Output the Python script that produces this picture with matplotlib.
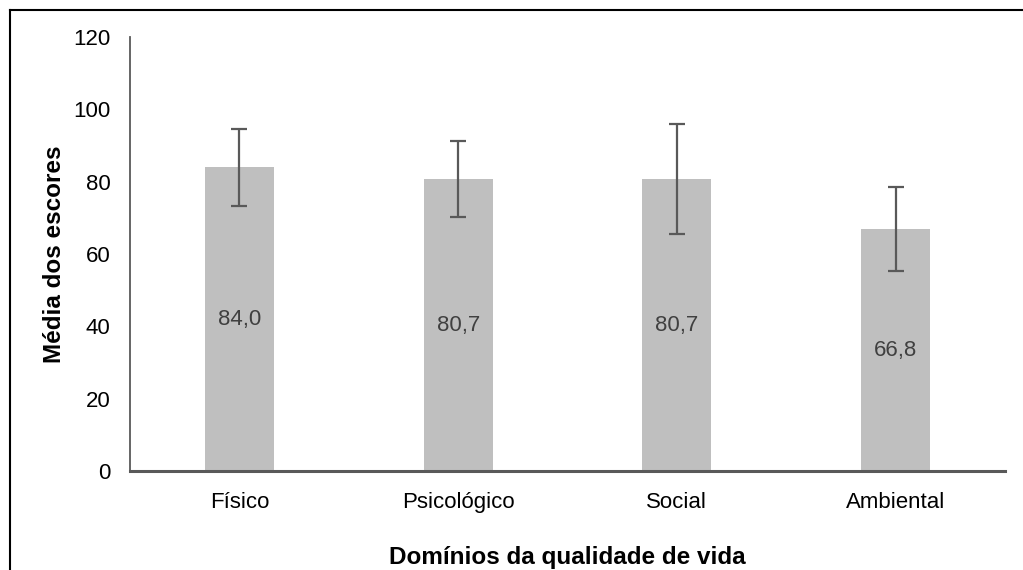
import numpy as np
import matplotlib
matplotlib.use("Agg")
import matplotlib.pyplot as plt
from matplotlib.lines import Line2D

plt.rcParams['font.family'] = ['Liberation Sans', 'DejaVu Sans']

# Scores by quality-of-life domain
domains = ['Físico', 'Psicológico', 'Social', 'Ambiental']
means = [84.0, 80.7, 80.7, 66.8]
sd = [10.6, 10.6, 15.2, 11.6]
labels = ['84,0', '80,7', '80,7', '66,8']

fig = plt.figure(figsize=(10.23, 5.70), dpi=100)
ax = fig.add_axes([130 / 1023, 1 - 471 / 570, 875 / 1023, 434 / 570])

x = np.arange(len(domains))
bars = ax.bar(x, means, width=0.315, color='#bfbfbf', zorder=2)
ax.errorbar(x, means, yerr=sd, fmt='none', ecolor='#595959', elinewidth=1.6,
            capsize=6, capthick=1.6, zorder=3)
ax.bar_label(bars, labels=labels, label_type='center', fontsize=16, color='#404040')

ax.set_xlim(-0.5, len(domains) - 0.5)
ax.set_ylim(0, 120)
ax.set_yticks(np.arange(0, 121, 20))
ax.set_xticks(x)
ax.set_xticklabels(domains)
ax.tick_params(axis='both', length=0, labelsize=16, colors='black')
ax.tick_params(axis='y', pad=14)
ax.tick_params(axis='x', pad=15)

for s in ['top', 'right']:
    ax.spines[s].set_visible(False)
ax.spines['left'].set_color('#595959')
ax.spines['left'].set_linewidth(1.3)
ax.spines['bottom'].set_color('#595959')
ax.spines['bottom'].set_linewidth(2.2)

ax.set_ylabel('Média dos escores', fontsize=17.5, fontweight='bold', labelpad=5)
ax.set_xlabel('Domínios da qualidade de vida', fontsize=17.5, fontweight='bold', labelpad=24)

# frame of the original picture (top and left edges only)
fig.add_artist(Line2D([9.5 / 1023, 9.5 / 1023], [0, 1 - 10 / 570],
                      transform=fig.transFigure, color='black', lw=1.5))
fig.add_artist(Line2D([9.5 / 1023, 1], [1 - 10 / 570, 1 - 10 / 570],
                      transform=fig.transFigure, color='black', lw=1.5))

fig.savefig('out.png', dpi=100)
